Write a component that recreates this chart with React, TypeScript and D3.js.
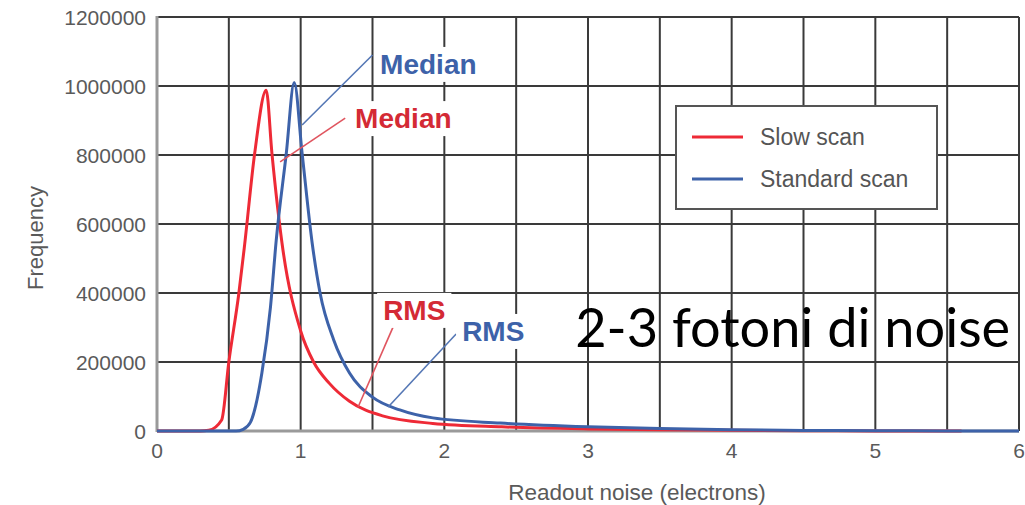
import React from 'react';
import * as d3 from 'd3';

// readout noise (electrons) -> frequency
const slow_x = [0, 0.3, 0.36, 0.45, 0.5, 0.57, 0.61, 0.68, 0.76, 0.8, 0.87, 1.0, 1.09, 1.2, 1.34, 1.57, 1.92, 2.4, 3.0, 3.5, 4.0, 4.5, 5.0, 5.6];
const slow_y = [0, 0, 2000, 32000, 200000, 400000, 540000, 805000, 988000, 805000, 545000, 290000, 200000, 138000, 86000, 44000, 22000, 12000, 6000, 3500, 2000, 800, 300, 100];

const std_x = [0, 0.55, 0.6, 0.65, 0.73, 0.79, 0.83, 0.9, 0.955, 1.01, 1.08, 1.135, 1.23, 1.34, 1.5, 1.69, 1.92, 2.39, 3.0, 3.5, 4.0, 4.5, 5.0, 5.5, 6.0];
const std_y = [0, 0, 5000, 25000, 168000, 360000, 553000, 805000, 1010000, 805000, 545000, 400000, 264000, 168000, 98000, 61000, 38000, 23000, 12000, 7000, 3500, 1500, 800, 300, 100];

const x_ticks = [0, 1, 2, 3, 4, 5, 6];
const y_ticks = [0, 200000, 400000, 600000, 800000, 1000000, 1200000];

const series_names = ['Slow scan', 'Standard scan'];
const series_colors = ['#ee2a36', '#3d62a9'];

// annotation labels: [text, series index, label x, label y, leader from x, from y, to x, to y]
const notes = [
  ['Median', 1, 1.553, 1035000, 1.01, 887000, 1.5, 1090000],
  ['Median', 0, 1.379, 878000, 0.857, 780000, 1.31, 907000],
  ['RMS', 0, 1.574, 322000, 1.4, 69600, 1.643, 301000],
  ['RMS', 1, 2.124, 261000, 1.609, 69600, 2.082, 281000],
];

class App extends React.Component {
  constructor(props) {
    super(props);
    this.myRef = React.createRef();
    this.draw = this.draw.bind(this);
  }

  componentDidMount() {
    this.draw();
  }

  draw() {
    const W = 1025, H = 505;
    const left = 157, right = 1019, top = 17, bottom = 431;

    const root = d3.select(this.myRef.current);
    root.selectAll('*').remove();

    const svg = root.append('svg')
      .attr('width', W)
      .attr('height', H)
      .style('position', 'absolute')
      .style('left', 0)
      .style('top', 0)
      .style('font-family', '"Liberation Sans", Arial, sans-serif');

    const x = d3.scaleLinear().domain([0, 6]).range([left, right]);
    const y = d3.scaleLinear().domain([0, 1200000]).range([bottom, top]);

    // grid
    const grid = svg.append('g').attr('stroke', '#3a3a3a').attr('stroke-width', 2);
    grid.selectAll('.vx')
      .data(x.ticks(12).filter(d => d > 0))
      .join('line')
      .attr('x1', d => x(d)).attr('x2', d => x(d))
      .attr('y1', top).attr('y2', bottom);
    grid.selectAll('.hy')
      .data(y_ticks.filter(d => d > 0))
      .join('line')
      .attr('x1', left).attr('x2', right)
      .attr('y1', d => y(d)).attr('y2', d => y(d));

    // axes lines
    svg.append('line')
      .attr('x1', left).attr('x2', left).attr('y1', top - 1).attr('y2', bottom + 1)
      .attr('stroke', '#9a9a9a').attr('stroke-width', 3);
    svg.append('line')
      .attr('x1', left).attr('x2', right).attr('y1', bottom).attr('y2', bottom)
      .attr('stroke', '#9a9a9a').attr('stroke-width', 3);

    // tick labels
    svg.append('g').selectAll('text')
      .data(y_ticks)
      .join('text')
      .attr('x', left - 11)
      .attr('y', d => y(d) + 8)
      .attr('text-anchor', 'end')
      .attr('fill', '#5a5a5a')
      .style('font-size', '21px')
      .text(d => d3.format('d')(d));
    svg.append('g').selectAll('text')
      .data(x_ticks)
      .join('text')
      .attr('x', d => x(d))
      .attr('y', bottom + 27)
      .attr('text-anchor', 'middle')
      .attr('fill', '#5a5a5a')
      .style('font-size', '21px')
      .text(d => d);

    svg.append('text')
      .attr('transform', `translate(43,${(top + bottom) / 2 + 14}) rotate(-90)`)
      .attr('text-anchor', 'middle')
      .attr('fill', '#5a5a5a')
      .style('font-size', '22px')
      .text('Frequency');
    svg.append('text')
      .attr('x', 637)
      .attr('y', 500)
      .attr('text-anchor', 'middle')
      .attr('fill', '#5a5a5a')
      .style('font-size', '22.5px')
      .text('Readout noise (electrons)');

    // curves
    const line = d3.line()
      .x(d => x(d[0]))
      .y(d => y(d[1]))
      .curve(d3.curveMonotoneX);
    const all = [
      slow_x.map((v, i) => [v, slow_y[i]]),
      std_x.map((v, i) => [v, std_y[i]]),
    ];
    all.forEach((pts, i) => {
      svg.append('path')
        .attr('d', line(pts))
        .attr('fill', 'none')
        .attr('stroke', series_colors[i])
        .attr('stroke-width', 3)
        .attr('stroke-linejoin', 'round');
    });

    // annotations
    const lead_colors = ['#e0555f', '#5577b5'];
    const label_colors = ['#d42a35', '#3d62a9'];
    notes.forEach(n => {
      svg.append('line')
        .attr('x1', x(n[4])).attr('y1', y(n[5]))
        .attr('x2', x(n[6])).attr('y2', y(n[7]))
        .attr('stroke', lead_colors[n[1]])
        .attr('stroke-width', 1.6);
    });
    notes.forEach(n => {
      const g = svg.append('g');
      const t = g.append('text')
        .attr('x', x(n[2]))
        .attr('y', y(n[3]))
        .attr('fill', label_colors[n[1]])
        .style('font-size', '28px')
        .style('font-weight', 'bold')
        .text(n[0]);
      const bb = t.node().getBBox();
      g.insert('rect', 'text')
        .attr('x', bb.x - 6).attr('y', bb.y - 2)
        .attr('width', bb.width + 12).attr('height', bb.height + 4)
        .attr('fill', 'white');
    });

    // legend
    const lg = svg.append('g');
    lg.append('rect')
      .attr('x', 676).attr('y', 106)
      .attr('width', 261).attr('height', 103)
      .attr('fill', 'white')
      .attr('stroke', '#555')
      .attr('stroke-width', 2);
    series_names.forEach((name, i) => {
      const yy = 137 + i * 42;
      lg.append('line')
        .attr('x1', 692).attr('x2', 743)
        .attr('y1', yy).attr('y2', yy)
        .attr('stroke', series_colors[i])
        .attr('stroke-width', 3);
      lg.append('text')
        .attr('x', 760).attr('y', yy + 8)
        .attr('fill', '#555')
        .style('font-size', '23px')
        .text(name);
    });

    // overlay text
    svg.append('text')
      .attr('x', x(2.911))
      .attr('y', y(243000))
      .attr('fill', '#000')
      .attr('textLength', 435)
      .attr('lengthAdjust', 'spacingAndGlyphs')
      .style('font-family', 'Lato, "Noto Sans", sans-serif')
      .style('font-size', '54px')
      .text('2-3 fotoni di noise');
  }

  render() {
    return <div ref={this.myRef}></div>;
  }
}

export default App;
